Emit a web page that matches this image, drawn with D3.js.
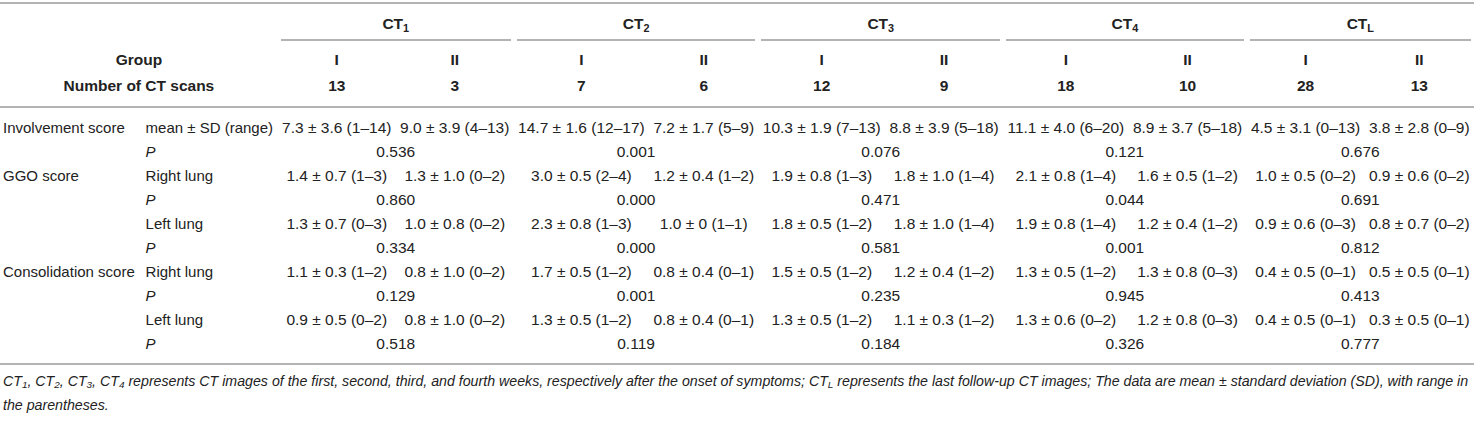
<!DOCTYPE html>
<html>
<head>
<meta charset="utf-8">
<script src="https://cdn.jsdelivr.net/npm/d3@7"></script>
<style>
body { margin: 0; background: #fff; font-family: Arial, "Liberation Sans", Helvetica, sans-serif; color: #222; }
#chart { position: absolute; left: 0; top: 2px; }
table { border-collapse: separate; border-spacing: 0; font-size: 15.5px; white-space: nowrap; width: 1474px; }
th, td { padding: 0 4px; height: 24px; line-height: 24px; text-align: center; }
th { font-weight: bold; }
sub { font-size: 70%; line-height: 0; vertical-align: -0.25em; }
tr.r1 th { border-top: 2px solid #b3b3b3; padding: 8px 0 0 0; }
tr.r1 th div { margin: 0 3px; padding-bottom: 3px; border-bottom: 2px solid #b3b3b3; line-height: 24px; }
tr.r2 th { padding-top: 7px; }
tr.r3 th { padding-top: 2px; padding-bottom: 8px; border-bottom: 2px solid #b3b3b3; }
td.lab { text-align: left; padding-left: 3px; padding-right: 6px; font-size: 15px; }
td.sub { text-align: left; font-size: 15px; }
td.sub.p { font-style: italic; }
tbody tr:first-child td { padding-top: 8px; }
tbody tr:last-child td { padding-bottom: 7px; border-bottom: 2px solid #b3b3b3; }
#note { position: absolute; left: 3px; top: 369px; font-style: italic; font-size: 14.2px; line-height: 24px; white-space: nowrap; color: #222; }
#note sub { font-size: 70%; }
</style>
</head>
<body>
<div id="chart"></div>
<div id="note"></div>
<script>
// time points and groups
var periods = ["1", "2", "3", "4", "L"];
var groups = ["I", "II"];
var scanCounts = [13, 3, 7, 6, 12, 9, 18, 10, 28, 13];

// involvement score
var involvement = ["7.3 ± 3.6 (1–14)", "9.0 ± 3.9 (4–13)", "14.7 ± 1.6 (12–17)", "7.2 ± 1.7 (5–9)", "10.3 ± 1.9 (7–13)",
    "8.8 ± 3.9 (5–18)", "11.1 ± 4.0 (6–20)", "8.9 ± 3.7 (5–18)", "4.5 ± 3.1 (0–13)", "3.8 ± 2.8 (0–9)"];
var involvementP = ["0.536", "0.001", "0.076", "0.121", "0.676"];

// GGO score
var ggoRight = ["1.4 ± 0.7 (1–3)", "1.3 ± 1.0 (0–2)", "3.0 ± 0.5 (2–4)", "1.2 ± 0.4 (1–2)", "1.9 ± 0.8 (1–3)",
    "1.8 ± 1.0 (1–4)", "2.1 ± 0.8 (1–4)", "1.6 ± 0.5 (1–2)", "1.0 ± 0.5 (0–2)", "0.9 ± 0.6 (0–2)"];
var ggoRightP = ["0.860", "0.000", "0.471", "0.044", "0.691"];
var ggoLeft = ["1.3 ± 0.7 (0–3)", "1.0 ± 0.8 (0–2)", "2.3 ± 0.8 (1–3)", "1.0 ± 0 (1–1)", "1.8 ± 0.5 (1–2)",
    "1.8 ± 1.0 (1–4)", "1.9 ± 0.8 (1–4)", "1.2 ± 0.4 (1–2)", "0.9 ± 0.6 (0–3)", "0.8 ± 0.7 (0–2)"];
var ggoLeftP = ["0.334", "0.000", "0.581", "0.001", "0.812"];

// consolidation score
var consRight = ["1.1 ± 0.3 (1–2)", "0.8 ± 1.0 (0–2)", "1.7 ± 0.5 (1–2)", "0.8 ± 0.4 (0–1)", "1.5 ± 0.5 (1–2)",
    "1.2 ± 0.4 (1–2)", "1.3 ± 0.5 (1–2)", "1.3 ± 0.8 (0–3)", "0.4 ± 0.5 (0–1)", "0.5 ± 0.5 (0–1)"];
var consRightP = ["0.129", "0.001", "0.235", "0.945", "0.413"];
var consLeft = ["0.9 ± 0.5 (0–2)", "0.8 ± 1.0 (0–2)", "1.3 ± 0.5 (1–2)", "0.8 ± 0.4 (0–1)", "1.3 ± 0.5 (1–2)",
    "1.1 ± 0.3 (1–2)", "1.3 ± 0.6 (0–2)", "1.2 ± 0.8 (0–3)", "0.4 ± 0.5 (0–1)", "0.3 ± 0.5 (0–1)"];
var consLeftP = ["0.518", "0.119", "0.184", "0.326", "0.777"];

var noteLines = [
    "CT<sub>1</sub>, CT<sub>2</sub>, CT<sub>3</sub>, CT<sub>4</sub> represents CT images of the first, second, third, and fourth weeks, respectively after the onset of symptoms; CT<sub>L</sub> represents the last follow-up CT images; The data are mean ± standard deviation (SD), with range in",
    "the parentheses."
];

var rows = [
    {label: "Involvement score", sub: "mean ± SD (range)", vals: involvement},
    {label: "", sub: "P", p: involvementP},
    {label: "GGO score", sub: "Right lung", vals: ggoRight},
    {label: "", sub: "P", p: ggoRightP},
    {label: "", sub: "Left lung", vals: ggoLeft},
    {label: "", sub: "P", p: ggoLeftP},
    {label: "Consolidation score", sub: "Right lung", vals: consRight},
    {label: "", sub: "P", p: consRightP},
    {label: "", sub: "Left lung", vals: consLeft},
    {label: "", sub: "P", p: consLeftP}
];

var table = d3.select("#chart").append("table");
var thead = table.append("thead");

var r1 = thead.append("tr").attr("class", "r1");
r1.append("th").attr("colspan", 2);
r1.selectAll("th.grp")
    .data(periods)
    .enter()
    .append("th")
    .attr("class", "grp")
    .attr("colspan", 2)
    .append("div")
    .html(d => `CT<sub>${d}</sub>`);

var r2 = thead.append("tr").attr("class", "r2");
r2.append("th").attr("colspan", 2).text("Group");
r2.selectAll("th.g")
    .data(periods.flatMap(() => groups))
    .enter()
    .append("th")
    .attr("class", "g")
    .text(d => d);

var r3 = thead.append("tr").attr("class", "r3");
r3.append("th").attr("colspan", 2).text("Number of CT scans");
r3.selectAll("th.n")
    .data(scanCounts)
    .enter()
    .append("th")
    .attr("class", "n")
    .text(d => d);

var tbody = table.append("tbody");
var tr = tbody.selectAll("tr")
    .data(rows)
    .enter()
    .append("tr");

tr.append("td").attr("class", "lab").text(d => d.label);
tr.append("td").attr("class", d => d.sub === "P" ? "sub p" : "sub").text(d => d.sub);
tr.each(function(d) {
    var row = d3.select(this);
    if (d.vals) {
        row.selectAll("td.v").data(d.vals).enter().append("td").attr("class", "v").text(v => v);
    } else {
        row.selectAll("td.pv").data(d.p).enter().append("td").attr("class", "pv").attr("colspan", 2).text(v => v);
    }
});

d3.select("#note").selectAll("div")
    .data(noteLines)
    .enter()
    .append("div")
    .html(d => d);
</script>
</body>
</html>
